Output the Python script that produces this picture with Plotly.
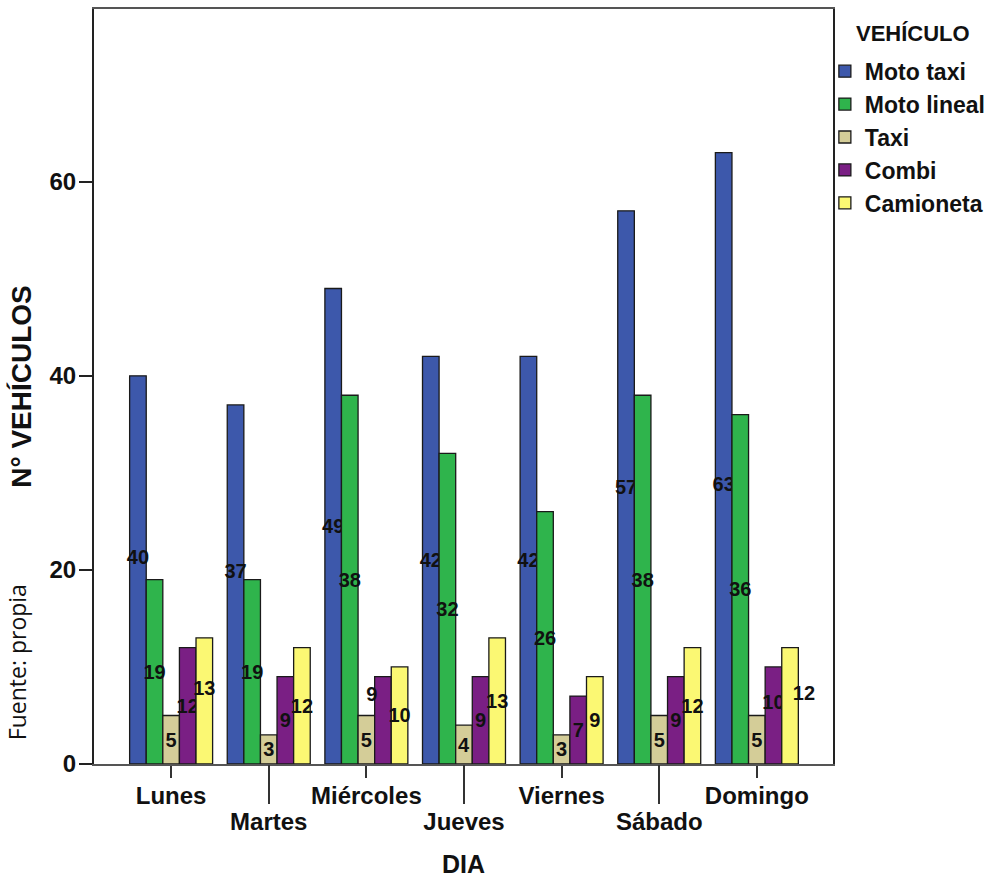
import plotly.graph_objects as go

# Vehicle counts per day of the week
dias = ["Lunes", "Martes", "Miércoles", "Jueves", "Viernes", "Sábado", "Domingo"]
moto_taxi = [40, 37, 49, 42, 42, 57, 63]
moto_lineal = [19, 19, 38, 32, 26, 38, 36]
taxi = [5, 3, 5, 4, 3, 5, 5]
combi = [12, 9, 9, 9, 7, 9, 10]
camioneta = [13, 12, 10, 13, 9, 12, 12]

series_names = ["Moto taxi", "Moto lineal", "Taxi", "Combi", "Camioneta"]
series_values = [moto_taxi, moto_lineal, taxi, combi, camioneta]
series_colors = ["#3d58ab", "#2fb44c", "#d4cd98", "#7a1f84", "#fbf873"]

y_ticks = [0, 20, 40, 60]

FONT = "Liberation Sans, Arial, sans-serif"
NBSP = "\u00a0"

# crowded value labels: (half-lines lifted, negative = lowered;
#                        spaces pushed sideways, + = right, - = left)
label_nudge = {
    ("Moto taxi", "Lunes"): (1, 0),
    ("Moto taxi", "Martes"): (1, 0),
    ("Moto taxi", "Domingo"): (-2, 0),
    ("Camioneta", "Lunes"): (1, 0),
    ("Camioneta", "Domingo"): (1, 5),
    ("Combi", "Domingo"): (1, 0),
    ("Combi", "Miércoles"): (2, -4),
}


def value_label(series, day, value):
    lift, side = label_nudge.get((series, day), (0, 0))
    txt = str(value)
    if side > 0:
        txt = NBSP * side + txt
    elif side < 0:
        txt = txt + NBSP * (-side)
    if lift > 0:
        txt = txt + ("<br>" + NBSP) * lift
    elif lift < 0:
        txt = (NBSP + "<br>") * (-lift) + txt
    return txt


fig = go.Figure()
for name, vals, color in zip(series_names, series_values, series_colors):
    fig.add_trace(go.Bar(
        name=name,
        x=dias,
        y=vals,
        text=[value_label(name, d, v) for d, v in zip(dias, vals)],
        textposition="inside",
        insidetextanchor="middle",
        textangle=0,
        textfont=dict(family=FONT, size=20, color="#111111", weight="bold"),
        marker=dict(color=color, line=dict(color="#1a1a1a", width=1.3)),
    ))

# Alternate day labels: even positions on the main axis, odd ones lower on a second axis
even_idx = list(range(0, len(dias), 2))
odd_idx = list(range(1, len(dias), 2))
x_range = [-0.79, len(dias) - 1 + 0.78]

# empty trace so the staggered label axis gets drawn
fig.add_trace(go.Scatter(x=[], y=[], xaxis="x2", yaxis="y",
                         showlegend=False, hoverinfo="skip"))

tick_font = dict(size=24, family=FONT, weight="bold")

fig.update_layout(
    width=996,
    height=878,
    margin=dict(l=94, r=163, t=9, b=114, autoexpand=False),
    paper_bgcolor="white",
    plot_bgcolor="white",
    barmode="group",
    bargap=0.15,
    bargroupgap=0.0,
    uniformtext=dict(minsize=20, mode="show"),
    font=dict(family=FONT, size=22, color="#111111"),
    showlegend=True,
    legend=dict(
        font=dict(size=23, family=FONT, weight="bold"),
        x=0.989, xanchor="left", y=0.946, yanchor="top",
        bgcolor="rgba(0,0,0,0)",
        tracegroupgap=0,
        itemwidth=30,
    ),
    xaxis=dict(
        type="category",
        categoryorder="array",
        categoryarray=dias,
        range=x_range,
        tickvals=[dias[i] for i in even_idx],
        ticktext=[dias[i] for i in even_idx],
        ticks="outside",
        ticklen=12,
        tickwidth=1.5,
        tickcolor="#333333",
        ticklabelstandoff=-3,
        tickfont=tick_font,
        showline=True,
        linecolor="#555555",
        linewidth=2,
        mirror=True,
        showgrid=False,
        zeroline=False,
    ),
    xaxis2=dict(
        overlaying="x",
        anchor="y",
        side="bottom",
        type="linear",
        range=x_range,
        tickvals=odd_idx,
        ticktext=[dias[i] for i in odd_idx],
        ticks="outside",
        ticklen=39,
        tickwidth=1.5,
        tickcolor="#333333",
        ticklabelstandoff=-3,
        tickfont=tick_font,
        showline=False,
        showgrid=False,
        zeroline=False,
    ),
    yaxis=dict(
        range=[0, 77.8],
        tickvals=y_ticks,
        ticks="outside",
        ticklen=13,
        tickwidth=1.5,
        tickcolor="#222222",
        ticklabelstandoff=-2,
        tickfont=tick_font,
        title=dict(text="<b>N° VEHÍCULOS</b>", font=dict(size=28, family=FONT), standoff=10),
        showline=True,
        linecolor="#222222",
        linewidth=2,
        mirror=True,
        showgrid=False,
        zeroline=False,
    ),
    annotations=[
        dict(
            text="<b>VEHÍCULO</b>", xref="paper", yref="paper", x=1.108, y=0.968,
            xanchor="center", yanchor="middle", showarrow=False,
            font=dict(size=22, family=FONT),
        ),
        dict(
            text="<b>DIA</b>", xref="paper", yref="paper", x=0.5, y=0,
            xanchor="center", yanchor="top", yshift=-84, showarrow=False,
            font=dict(size=25, family=FONT),
        ),
        dict(
            text="Fuente: propia", xref="paper", yref="paper", x=-0.104, y=0.135,
            xanchor="center", yanchor="middle", textangle=-90, showarrow=False,
            font=dict(size=23, family="Open Sans, sans-serif", color="#111111"),
        ),
    ],
)

fig.write_html("out.html")
